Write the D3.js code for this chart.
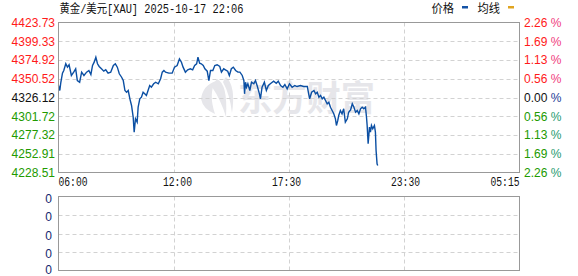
<!DOCTYPE html>
<html>
<head>
<meta charset="utf-8">
<script src="https://cdn.jsdelivr.net/npm/d3@7"></script>
<style>
html,body{margin:0;padding:0;background:#fff;}
svg{display:block;}
</style>
</head>
<body>
<svg id="chart" width="578" height="276"></svg>
<script>
// ---------- data ----------
const titleText = "黄金/美元[XAU] 2025-10-17 22:06";
const legendLabels = ["价格", "均线"];
const legendColors = ["#1553a6", "#e0a420"];

const prevClose = 4326.12;
const yTickLabels = ["4423.73","4399.33","4374.92","4350.52","4326.12","4301.72","4277.32","4252.91","4228.51"];
const pctTickLabels = ["2.26","1.69","1.13","0.56","0.00","0.56","1.13","1.69","2.26"];
const xTickLabels = ["06:00","12:00","17:30","23:30","05:15"];
const volTickLabels = ["0","0","0","0","0"];

const times = ["06:00","06:04","06:07","06:12","06:16","06:22","06:27","06:32","06:39","06:46","06:52","06:57",
"07:04","07:10","07:17","07:25","07:32","07:38","07:43","07:48","07:53","07:58","08:03","08:10","08:17","08:23",
"08:30","08:38","08:46","08:52","08:58","09:04","09:11","09:16","09:21","09:26","09:31","09:36","09:41","09:46",
"09:49","09:53","09:58","10:01","10:06","10:11","10:16","10:21","10:26","10:31","10:36","10:41","10:48","10:54",
"11:02","11:09","11:14","11:19","11:24","11:34","11:44","11:51","11:59","12:06","12:12","12:17","12:24","12:31",
"12:39","12:46","12:52","12:58","13:02","13:07","13:12","13:18","13:23","13:30","13:35","13:40","13:47","13:53",
"14:00","14:08","14:13","14:20","14:25","14:32","14:37","14:43","14:49","14:56","15:03","15:09","15:16","15:21",
"15:23","15:26","15:29","15:33","15:39","15:44","15:51","15:56","16:01","16:08","16:11","16:16","16:23","16:29",
"16:35","16:41","16:51","16:59","17:05","17:12","17:19","17:25","17:32","17:39","17:47","17:55","18:02","18:12",
"18:22","18:33","18:37","18:40","18:46","18:53","18:58","19:03","19:08","19:13","19:18","19:23","19:28","19:33",
"19:38","19:43","19:48","19:53","19:58","20:01","20:05","20:08","20:13","20:18","20:23","20:28","20:34","20:38",
"20:44","20:49","20:54","20:59","21:04","21:09","21:14","21:19","21:24","21:29","21:32","21:34","21:37","21:41",
"21:44","21:47","21:51","21:56","21:59","22:01","22:04","22:06"];

const prices = [4341.7,4335.2,4345.6,4357.8,4361.3,4370.0,4365.6,4368.7,4354.8,4359.1,4363.5,4348.2,
4346.0,4359.1,4354.8,4359.1,4361.3,4356.1,4367.8,4372.1,4378.6,4370.0,4366.5,4363.5,4360.4,4362.2,
4357.8,4359.1,4367.8,4370.0,4365.6,4357.0,4352.5,4348.2,4335.2,4333.0,4335.2,4324.4,4315.7,4300.5,
4281.0,4298.4,4294.0,4313.5,4324.4,4326.5,4333.0,4330.9,4328.7,4335.2,4341.7,4339.5,4344.0,4346.0,
4344.0,4350.5,4359.1,4361.3,4359.1,4357.8,4357.8,4365.6,4367.8,4376.5,4372.1,4365.6,4359.1,4362.2,
4363.5,4362.2,4367.8,4370.0,4378.6,4370.8,4370.0,4367.8,4363.5,4360.4,4348.2,4361.3,4361.3,4367.8,
4368.7,4366.5,4359.1,4363.5,4362.2,4360.4,4354.8,4363.5,4365.6,4361.3,4359.1,4359.1,4354.8,4348.2,
4330.9,4346.0,4339.5,4344.0,4335.2,4346.0,4344.0,4348.2,4341.7,4330.9,4324.4,4339.5,4346.0,4335.2,
4341.7,4344.0,4347.3,4344.7,4347.3,4341.7,4339.5,4343.0,4337.4,4344.0,4339.5,4341.7,4340.4,4341.7,
4340.4,4340.4,4330.9,4324.4,4333.0,4335.2,4330.9,4333.0,4326.5,4328.7,4324.4,4326.5,4322.2,4317.9,
4320.0,4313.5,4309.2,4304.9,4298.4,4289.7,4296.2,4302.7,4309.2,4304.9,4311.4,4294.0,4298.4,4307.0,
4310.1,4317.9,4313.5,4307.0,4309.2,4304.9,4311.4,4313.5,4311.4,4313.5,4300.5,4289.7,4265.9,4287.5,
4281.0,4289.7,4285.4,4289.7,4281.0,4257.1,4239.8,4237.6];

// ---------- layout ----------
const L = 58.5, R = 519.5, T = 22.5, B = 172.5;
const VT = 196.5, VB = 270.5;
const sessionStart = "06:00", sessionEnd = "05:15";

const svg = d3.select("#chart");
const toMinBase = 6 * 60;
const toMin = s => { const [h, m] = s.split(":").map(Number); return ((h * 60 + m) - toMinBase + 1440) % 1440; };
const endMin = toMin(sessionEnd) === 0 ? 1440 : toMin(sessionEnd);

const x = d3.scaleLinear().domain([0, endMin]).range([L, R]);
const y = d3.scaleLinear().domain([+yTickLabels[8], +yTickLabels[0]]).range([B, T]);
const gridX = d3.scaleLinear().domain([0, 4]).range([L, R]);
const gridY = d3.scaleLinear().domain([0, 8]).range([T, B]);
const volY = d3.scaleLinear().domain([0, 4]).range([VT, VB]);

const red = "#ff1a1a", green = "#229a00", black = "#111";
const colorFor = i => i < 4 ? red : (i === 4 ? black : green);
const pctColorFor = i => i < 4 ? "#f0407e" : (i === 4 ? "#1d3c96" : "#1f9a70");

// ---------- watermark ----------
const wm = svg.append("g").attr("fill", "#e6e6ea");
wm.append("path").attr("d", "M201,99 Q203,85 216,81 Q208,93 215,114 Q203,109 201,99 Z");
wm.append("path").attr("d", "M217,79 Q228,84 226,117 Q221,100 212,87 Q214,82 217,79 Z");
wm.append("path").attr("d", "M226,77 Q236,86 232,113 Q230,95 223,82 Q224,79 226,77 Z");
wm.append("text").attr("x", 238).attr("y", 111)
  .attr("font-family", "'Noto Sans CJK SC'").attr("font-weight", "bold")
  .attr("font-size", 35).attr("textLength", 137).attr("lengthAdjust", "spacingAndGlyphs")
  .text("东方财富");

// ---------- grids ----------
const dash = "4,3", gridCol = "#d2d2d2";
const g = svg.append("g");
d3.range(1, 8).forEach(i => {
  g.append("line").attr("x1", L).attr("x2", R).attr("y1", Math.round(gridY(i)) + 0.5).attr("y2", Math.round(gridY(i)) + 0.5)
    .attr("stroke", gridCol).attr("stroke-dasharray", dash);
});
d3.range(1, 4).forEach(i => {
  const gx = Math.round(gridX(i)) + 0.5;
  g.append("line").attr("x1", gx).attr("x2", gx).attr("y1", T).attr("y2", B)
    .attr("stroke", gridCol).attr("stroke-dasharray", dash);
  g.append("line").attr("x1", gx).attr("x2", gx).attr("y1", VT).attr("y2", VB)
    .attr("stroke", gridCol).attr("stroke-dasharray", dash);
});
d3.range(1, 4).forEach(i => {
  const gy = Math.round(volY(i)) + 0.5;
  g.append("line").attr("x1", L).attr("x2", R).attr("y1", gy).attr("y2", gy)
    .attr("stroke", gridCol).attr("stroke-dasharray", dash);
});

// ---------- price line ----------
const data = times.map((t, i) => ({ m: toMin(t), v: prices[i] }));
svg.append("path").datum(data)
  .attr("fill", "none").attr("stroke", "#0b4fa3").attr("stroke-width", 1.4)
  .attr("stroke-linejoin", "miter")
  .attr("d", d3.line().x(d => x(d.m)).y(d => y(d.v)));

// ---------- borders ----------
svg.append("rect").attr("x", L).attr("y", T).attr("width", R - L).attr("height", B - T)
  .attr("fill", "none").attr("stroke", "#999");
svg.append("rect").attr("x", L).attr("y", VT).attr("width", R - L).attr("height", VB - VT)
  .attr("fill", "none").attr("stroke", "#999");

// ---------- y labels ----------
yTickLabels.forEach((lab, i) => {
  svg.append("text").attr("x", 55).attr("y", gridY(i)).attr("dy", "0.36em")
    .attr("text-anchor", "end").attr("font-family", "'Liberation Sans', Arial, sans-serif")
    .attr("font-size", 12).attr("fill", colorFor(i)).text(lab);
});
pctTickLabels.forEach((lab, i) => {
  const t = svg.append("text").attr("x", 524).attr("y", gridY(i)).attr("dy", "0.36em")
    .attr("font-family", "'Liberation Sans', Arial, sans-serif").attr("font-size", 12);
  t.append("tspan").attr("fill", colorFor(i)).text(lab + " ");
  t.append("tspan").attr("fill", pctColorFor(i)).text("%");
});

// ---------- x labels ----------
xTickLabels.forEach((lab, i) => {
  let px = x(toMin(lab));
  if (i === xTickLabels.length - 1) px = x(endMin);
  const anchor = i === 0 ? "start" : (i === xTickLabels.length - 1 ? "end" : "middle");
  svg.append("text").attr("x", i === 0 ? L : px).attr("y", 186)
    .attr("text-anchor", anchor).attr("font-family", "'Liberation Mono', monospace")
    .attr("font-size", 12).attr("textLength", 29).attr("lengthAdjust", "spacingAndGlyphs")
    .attr("fill", "#111").text(lab);
});

// ---------- volume labels ----------
volTickLabels.forEach((lab, i) => {
  const off = i === volTickLabels.length - 1 ? -0.5 : 2;
  svg.append("text").attr("x", 52).attr("y", volY(i) + off).attr("dy", "0.36em")
    .attr("text-anchor", "end").attr("font-family", "'Liberation Sans', Arial, sans-serif")
    .attr("font-size", 12).attr("fill", "#14286e").text(lab);
});

// ---------- title & legend ----------
svg.append("text").attr("x", 59.5).attr("y", 12.5)
  .attr("font-family", "'Liberation Mono', 'Noto Sans CJK SC', monospace")
  .attr("font-size", 12).attr("textLength", 184).attr("lengthAdjust", "spacingAndGlyphs")
  .attr("fill", "#111").text(titleText);

const legX = [431.5, 477.5], dashX = [462, 508];
legendLabels.forEach((lab, i) => {
  svg.append("text").attr("x", legX[i]).attr("y", 13)
    .attr("font-family", "'Noto Sans CJK SC', sans-serif").attr("font-size", 12)
    .attr("textLength", 22.5).attr("lengthAdjust", "spacingAndGlyphs")
    .attr("fill", "#111").text(lab);
  svg.append("rect").attr("x", dashX[i]).attr("y", 6).attr("width", 6).attr("height", 2.5)
    .attr("fill", legendColors[i]);
});
</script>
</body>
</html>
